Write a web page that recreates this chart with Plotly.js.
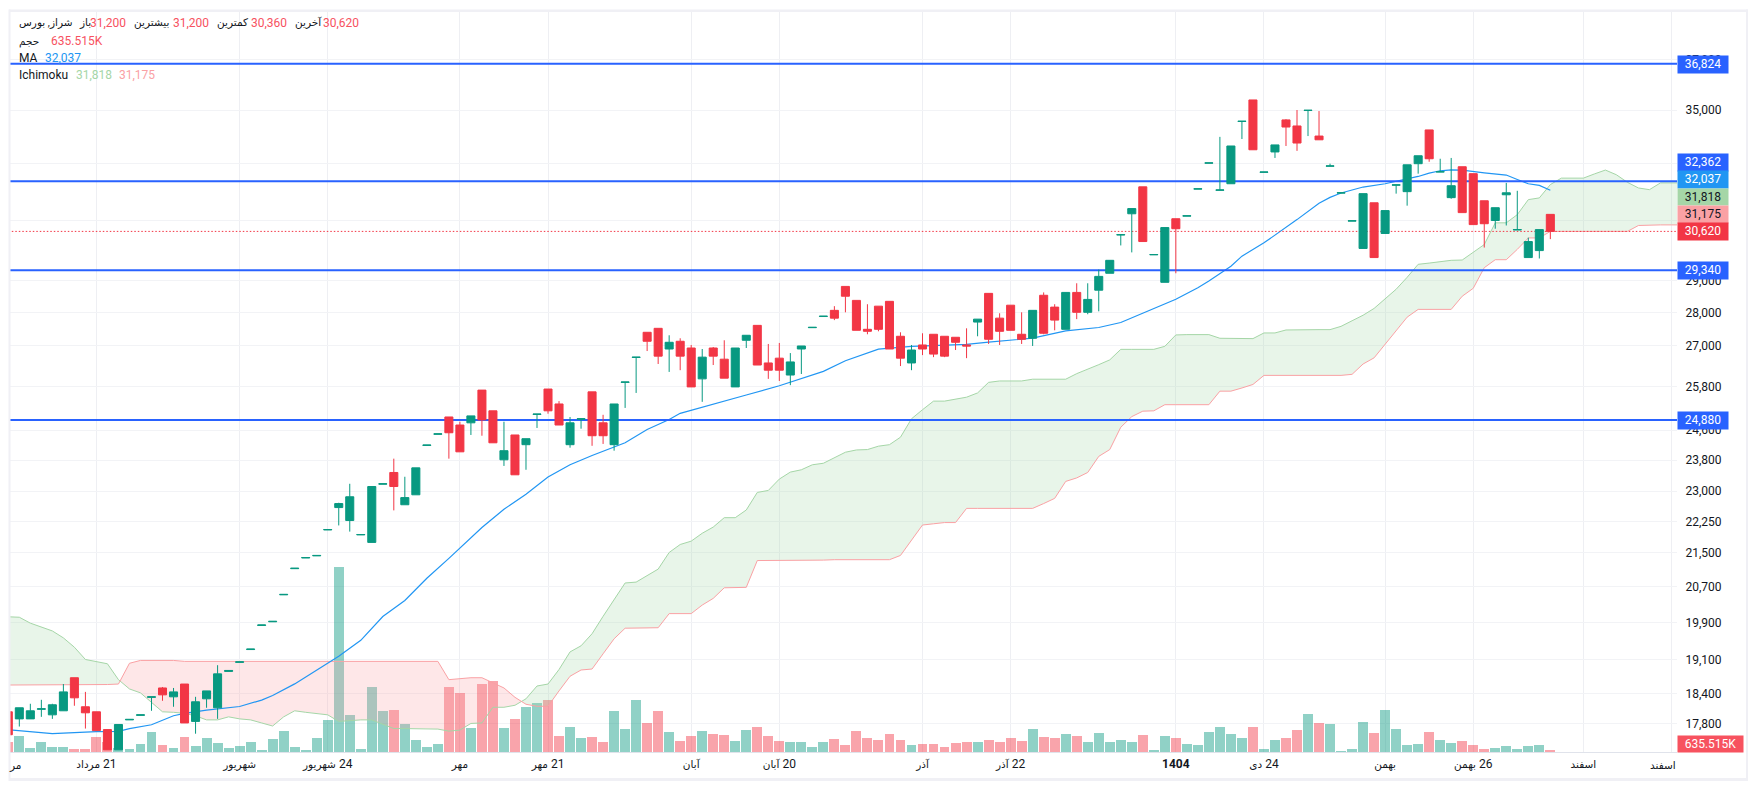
<!DOCTYPE html>
<html><head><meta charset="utf-8">
<script src="https://cdn.plot.ly/plotly-3.0.1.min.js"></script>
<style>html,body{margin:0;padding:0;background:#fff;overflow:hidden}#c{width:1757px;height:790px}</style>
</head><body><div id="c"></div>
<script>
const opens=[18040,17900,17900,18090,17980,18060,18730,18140,18040,17690,
17300,17880,17970,18330,18520,18340,18600,17850,18300,18120,
18860,19050,19320,19840,19920,20520,21120,21370,21420,22040,
22590,22270,21920,21740,23180,23480,22660,22910,24190,24490,
24960,24740,24800,25710,25130,23810,24470,24210,25030,25740,
25320,24210,24900,25660,24800,24210,25930,26650,27400,27520,
26900,27130,26930,26030,26930,26600,25800,27160,27610,26490,
26630,26140,26900,27540,27880,28070,28820,28380,27490,28200,
28350,27280,26490,27020,27340,27280,27250,27020,27710,28600,
27830,28230,27340,27220,28540,28170,27490,28630,28010,28700,
29240,30500,31220,32160,29840,28950,31050,31140,32080,33010,
32040,32270,34560,35390,32680,33420,34620,34390,34980,34010,
32900,31940,30970,30050,31600,30550,32220,31990,32990,34240,
32690,31780,32880,32630,31670,30990,31880,30670,29750,29980,31200];
const highs=[18040,18120,18200,18280,18200,18600,18730,18440,18040,17690,
17790,17890,17980,18340,18540,18520,18600,18340,18460,18990,
18880,19060,19330,19850,19930,20530,21130,21380,21430,22050,
22710,23190,21930,23120,23190,23840,23370,23600,24200,24500,
24960,24830,24990,25710,25130,24830,24470,24370,25040,25740,
25400,24960,24910,25660,25020,25320,25940,26660,27400,27520,
27310,27220,27020,26900,26960,27160,26930,27310,27610,27050,
27080,26780,26990,27550,27890,28200,28820,28380,28260,28200,
28350,27400,27020,27370,27340,27280,27250,27520,27800,28600,
27980,28230,28010,28070,28630,28260,28630,28920,28920,29360,
29660,30510,31400,32160,29850,30750,31050,31150,32090,33020,
33980,33640,34570,35390,32690,33680,34650,35000,34990,34960,
32990,31950,30980,31920,31600,31330,32230,32950,33280,34240,
33170,33200,32880,32630,31670,31430,32300,32020,30410,30680,31200];
const lows=[17590,17750,17900,17940,17900,18060,18160,17710,17670,17300,
17300,17880,17970,18060,18260,18140,17820,17610,18120,17900,
18860,19050,19320,19840,19920,20520,21120,21370,21420,22040,
22150,22000,21920,21740,23180,22520,22660,22910,24190,24490,
23840,24020,24470,24450,24260,23650,23420,23550,24660,25050,
24740,24130,24640,24180,24230,24050,25210,25630,26840,26460,
26230,26280,25800,25380,26430,26050,25800,26930,26430,26030,
25970,25850,26170,27540,27880,27770,28010,27460,27340,27430,
26900,26400,26280,26720,26660,26660,26870,26630,27280,27050,
27020,27460,27050,26990,27340,27460,27490,27800,27950,28040,
29240,30150,29920,30280,29840,28950,29240,31140,32080,33010,
32040,32270,33900,33500,32680,33200,33640,33460,34010,33870,
32900,31940,30970,30050,29750,30550,31920,31500,32630,33060,
32690,31740,31260,30850,30080,30710,30820,30670,29750,29720,30360];
const closes=[17590,18120,18060,18100,18180,18440,18320,18020,17670,17300,
17790,17890,17980,18340,18380,18440,17820,18240,18460,18810,
18880,19060,19330,19850,19930,20530,21130,21380,21430,22050,
22690,22860,21930,23120,23190,23120,22840,23600,24200,24500,
24530,24020,24990,24880,24260,24050,23420,24370,25040,25130,
24740,24800,24910,24450,24450,25320,25940,26660,27130,26690,
27100,26690,25800,26660,26690,26050,26930,27310,26430,26280,
26280,26520,26990,27550,27890,27830,28510,27460,27430,27490,
26900,26630,26870,26900,26750,26690,27100,26990,27800,27190,
27430,27460,27190,28070,27370,27770,28630,28010,28410,29140,
29660,30510,31400,30280,29850,30750,30710,31150,32090,33020,
32050,33640,34570,33500,32690,33680,34350,33750,34990,33870,
32910,31950,30980,31920,29750,31330,32230,32950,33280,33170,
32700,32200,31260,30850,30880,31430,31950,30680,30280,30680,30620];
const volumesM=[3.18,5.09,1.27,3.18,1.59,1.59,.95,.95,4.77,3.18,
1.27,.95,2.54,6.36,2.23,1.27,4.77,1.91,4.45,2.86,
1.27,1.91,3.18,.64,4.13,6.68,1.59,.64,4.45,10.18,
58.83,11.77,.95,20.67,13.04,13.36,8.90,3.82,1.59,2.54,
20.67,18.76,7.63,21.62,22.58,7.63,10.49,14.31,15.58,16.54,
5.09,7.95,4.45,4.77,3.18,13.04,7.31,16.54,9.22,13.04,
6.36,3.50,5.09,6.68,5.72,5.41,3.50,7.00,7.95,5.09,
3.50,3.18,3.18,1.59,3.18,4.13,2.23,6.68,4.45,3.82,
5.72,3.82,2.23,2.54,2.54,1.59,2.86,3.18,3.18,3.82,
3.18,4.45,3.50,7.31,4.77,4.45,5.72,5.09,3.18,6.04,
3.18,3.82,3.18,5.41,.64,5.09,4.45,2.54,2.23,6.36,
7.95,5.72,4.45,7.95,.95,3.82,4.45,7.00,12.08,9.22,
8.90,.32,.95,9.54,6.04,13.36,7.31,2.23,2.54,6.36,
3.82,2.86,3.50,2.23,.95,1.27,1.91,.95,1.91,2.23,.6355];
const maBars=[0,4,8,10,11,13,15,16,18,20,21,23,24,26,28,30,32,34,36,38,40,41,43,45,47,49,51,53,56,58,60,61,65,67,70,74,76,79,82,87,89,93,96,99,101,106,108,109,111,112,114,116,117,119,120,121,123,125,128,129,130,131,132,134,136,137,138,139,140];
const maValues=[17688,17611,17650,17656,17708,17785,17962,18007,18075,18114,18146,18274,18367,18603,18885,19178,19517,20037,20392,20898,21361,21597,22100,22549,22923,23364,23682,23925,24260,24617,24889,25060,25390,25572,25834,26246,26553,26897,26977,27036,27104,27223,27442,27544,27697,28413,28780,28990,29470,29796,30236,30738,31020,31586,31788,31942,32153,32270,32530,32651,32734,32770,32760,32662,32580,32423,32270,32210,32037];
const spanA=[20030,20020,19890,19810,19720,19570,19370,19110,19060,19020,
18690,18500,18420,18220,18040,18030,18010,17960,17880,17880,
17940,17900,17880,17820,17760,17940,18060,18030,18010,17980,
17850,17870,17880,17880,17790,17710,17710,17710,17710,17700,
17660,17680,17810,17820,18130,18130,18170,18300,18560,18600,
18900,19270,19400,19660,20040,20420,20790,20810,20960,21110,
21500,21690,21770,21960,22110,22340,22340,22530,22970,23020,
23310,23490,23550,23680,23720,23860,24010,24070,24080,24170,
24210,24410,24910,25160,25400,25400,25460,25510,25630,25930,
25970,25970,25970,26020,26020,26020,26020,26180,26300,26440,
26580,26890,26890,26890,26890,26980,27320,27330,27330,27330,
27220,27210,27210,27210,27380,27380,27470,27480,27480,27480,
27480,27580,27750,27920,28130,28440,28730,29110,29530,29570,
29620,29660,29670,29920,30180,30910,30910,31190,31710,31770,
32240,32470,32470,32470,32620,32760,32590,32320,32120,32060,
32300,32300,32300];
const spanB=[18580,18580,18580,18580,18580,18590,18590,18590,18590,18590,
18600,19030,19090,19090,19090,19090,19070,19070,19070,19070,
19070,19070,19070,19070,19070,19070,19070,19070,19070,19070,
19070,19070,19070,19070,19070,19070,19070,19070,19070,19070,
18690,18710,18730,18730,18620,18520,18330,18190,18150,18150,
18460,18760,18890,18910,19230,19550,19780,19780,19780,19790,
20100,20100,20100,20290,20440,20680,20680,20690,21310,21310,
21310,21310,21310,21310,21320,21330,21330,21330,21330,21330,
21330,21430,21790,22160,22190,22220,22220,22570,22570,22570,
22570,22570,22570,22570,22690,22820,23250,23340,23480,23900,
24080,24680,24970,25120,25130,25300,25300,25300,25300,25300,
25680,25680,25770,25870,26130,26130,26130,26130,26130,26130,
26130,26130,26160,26460,26640,27050,27460,27860,28100,28100,
28100,28100,28510,28760,29420,29680,29680,30020,30400,30400,
30620,30620,30620,30620,30620,30620,30620,30620,30820,30840,
30840,30840,30840];
const levels=[36824,32362,29340,24880];
const lastPrice=30620;
const priceTicks=[39000,37000,35000,33000,31000,29000,28000,27000,25800,24600,23800,23000,22250,21500,20700,19900,19100,18400,17800];
const priceTickText=['39,000','37,000','35,000','','','29,000','28,000','27,000','25,800','24,600','23,800','23,000','22,250','21,500','20,700','19,900','19,100','18,400','17,800'];
const dateTickBars=[8,21,29,41,49,62,70,83,91,106,114,125,133,143,151];
const fa=s=>'<span style="font-size:10.5px">'+s+'</span>';
const dateTickText=['\u200F21 '+fa('مرداد'),fa('شهریور'),'\u200F24 '+fa('شهریور'),fa('مهر'),'\u200F21 '+fa('مهر'),fa('آبان'),'\u200F20 '+fa('آبان'),fa('آذر'),'\u200F22 '+fa('آذر'),'<b>1404</b>','\u200F24 '+fa('دی'),fa('بهمن'),'\u200F26 '+fa('بهمن'),fa('اسفند'),''];

const GREEN='#089981',RED='#F23645',BLUE='#2962FF',MA='#2196F3',SA='#A5D6A7',SB='#FAA1A4';
const FONT='Roboto, "Noto Sans", "DejaVu Sans", sans-serif';
const W=1757,H=790,L=10,R=1677,T=12,B=752;
const fx=p=>(p-L)/(R-L), fy=p=>(B-p)/(B-T);
const idx=opens.map((_,i)=>i);
const spanIdx=spanA.map((_,i)=>i);
const levelX=[0,152];

function cloudTraces(){
  const out=[];let xs=[spanIdx[0]],a=[spanA[0]],b=[spanB[0]];
  const flush=(up)=>{
    out.push({type:'scatter',mode:'none',x:xs.concat(xs.slice().reverse()),y:a.concat(b.slice().reverse()),
      fill:'toself',fillcolor:up?'rgba(165,214,167,0.25)':'rgba(250,161,164,0.25)',xaxis:'x',yaxis:'y2',hoverinfo:'skip',showlegend:false});
  };
  for(let i=1;i<spanA.length;i++){
    const d0=Math.log(spanA[i-1]/spanB[i-1]),d1=Math.log(spanA[i]/spanB[i]);
    if(d0*d1<0){
      const t=d0/(d0-d1),cx=i-1+t,cy=Math.exp(Math.log(spanA[i-1])+t*Math.log(spanA[i]/spanA[i-1]));
      xs.push(cx);a.push(cy);b.push(cy);flush(d0>0);
      xs=[cx];a=[cy];b=[cy];
    }
    xs.push(i);a.push(spanA[i]);b.push(spanB[i]);
  }
  flush(spanA[spanA.length-1]>spanB[spanB.length-1]);
  return out;
}

const line=(x,y,color,width,dash)=>({type:'scatter',mode:'lines',x,y,line:{color,width,dash:dash||'solid'},xaxis:'x',yaxis:'y2',hoverinfo:'skip',showlegend:false});
const traces=[
 {type:'bar',x:idx,y:volumesM,width:0.9,marker:{color:closes.map((c,i)=>c>=opens[i]?'rgba(8,153,129,0.45)':'rgba(242,54,69,0.45)'),line:{width:0}},xaxis:'x',yaxis:'y',hoverinfo:'skip',showlegend:false},
 ...cloudTraces(),
 line(spanIdx,spanA,SA,1),
 line(spanIdx,spanB,SB,1),
 line(maBars,maValues,MA,1.2),
 line(levelX,[lastPrice,lastPrice],RED,1,'1.5px,2px'),
 ...levels.map(v=>line(levelX,[v,v],BLUE,2)),
 {type:'candlestick',x:idx,open:opens,high:highs,low:lows,close:closes,xaxis:'x',yaxis:'y3',whiskerwidth:0,
  increasing:{line:{color:GREEN,width:1},fillcolor:GREEN},decreasing:{line:{color:RED,width:1},fillcolor:RED},hoverinfo:'skip',showlegend:false}
];

const txt=(s,xL,yC,color,size)=>({text:s,xref:'paper',yref:'paper',x:fx(xL),y:fy(yC),xanchor:'left',yanchor:'middle',showarrow:false,font:{family:FONT,size:size||12,color},borderpad:0});
const tag=(s,bg,fg,top,bot,w)=>({text:s,xref:'paper',yref:'paper',x:1,y:fy((top+bot)/2),xanchor:'left',yanchor:'middle',showarrow:false,width:w||50,height:bot-top,bgcolor:bg,borderpad:0,align:'center',valign:'middle',font:{family:FONT,size:12,color:fg}});
const DARK='#131722',TXT='#F7525F',FA=10.5;
const annotations=[
 txt('شراز, بورس',18,23,DARK,FA),txt('باز',78,23,DARK,FA),txt('31,200',89,23,TXT),
 txt('بیشترین',133,23,DARK,FA),txt('31,200',172,23,TXT),txt('کمترین',216,23,DARK,FA),txt('30,360',250,23,TXT),
 txt('آخرین',294,23,DARK,FA),txt('30,620',322,23,TXT),
 txt('حجم',18,41,DARK,FA),txt('635.515K',50,41,TXT),
 txt('MA',18,58,DARK),txt('32,037',44,58,MA),
 txt('Ichimoku',18,75,DARK),txt('31,818',75,75,SA),txt('31,175',117.5,75,SB),
 tag('36,824',BLUE,'#fff',56,72.7),
 tag('32,362',BLUE,'#fff',154,170.7),
 tag('32,037',MA,'#fff',171.3,188),
 tag('31,818',SA,DARK,188.7,205),
 tag('31,175',SB,DARK,206,222.7),
 tag('30,620',RED,'#fff',223,239.7),
 tag('29,340',BLUE,'#fff',262,278.7),
 tag('24,880',BLUE,'#fff',412,428.7),
 tag('635.515K',TXT,'#fff',736,752,65),
 {text:'مر',xref:'paper',yref:'paper',x:fx(15),y:fy(765),xanchor:'center',yanchor:'middle',showarrow:false,font:{family:FONT,size:FA,color:DARK}},
 {text:'اسفند',xref:'paper',yref:'paper',x:fx(1663),y:fy(765),xanchor:'center',yanchor:'middle',showarrow:false,font:{family:FONT,size:FA,color:DARK}}
];
const band=(x0,y0,x1,y1,c)=>({type:'rect',xref:'paper',yref:'paper',x0:fx(x0),x1:fx(x1),y0:fy(y0),y1:fy(y1),fillcolor:c,line:{width:0},layer:'above'});
const FRAME='#F0F0F5';
const shapes=[
 band(0,0,W,9.5,'#ffffff'),
 band(9,9.5,1748,12,FRAME),
 band(9,778,1748,781,FRAME),
 band(1746,9.5,1748,781,FRAME),
 band(8.5,9.5,10.5,781,FRAME)
];
const logRange=[4.23701,4.59094];
const layout={
 width:W,height:H,paper_bgcolor:'#fff',plot_bgcolor:'#fff',showlegend:false,hovermode:false,
 margin:{l:L,r:W-R,t:T,b:H-B,pad:0},boxgap:0.27,boxgroupgap:0,bargap:0,barmode:'overlay',
 font:{family:FONT,size:12,color:DARK},
 xaxis:{type:'linear',range:[0.154,151.5],tickmode:'array',tickvals:dateTickBars,ticktext:dateTickText,showgrid:true,gridcolor:'#EEEFF3',gridwidth:1,zeroline:false,
  showline:true,linecolor:'#E0E3EB',linewidth:1,ticks:'outside',ticklen:1,tickcolor:'rgba(0,0,0,0)',tickfont:{family:FONT,size:12,color:DARK},rangeslider:{visible:false},fixedrange:true},
 yaxis:{visible:false,range:[0,235.3],fixedrange:true,showgrid:false,zeroline:false},
 yaxis2:{type:'log',range:logRange,overlaying:'y',side:'right',anchor:'x',tickmode:'array',tickvals:priceTicks,ticktext:priceTickText,
  showgrid:true,gridcolor:'#F2F3F6',gridwidth:1,zeroline:false,showline:false,ticks:'outside',ticklen:5,tickcolor:'rgba(0,0,0,0)',tickfont:{family:FONT,size:12,color:DARK},fixedrange:true},
 yaxis3:{type:'log',range:logRange,overlaying:'y',side:'right',anchor:'x',showgrid:false,showticklabels:false,ticks:'',zeroline:false,showline:false,fixedrange:true},
 annotations,shapes
};
Plotly.newPlot('c',traces,layout,{staticPlot:true,displayModeBar:false});
</script></body></html>
